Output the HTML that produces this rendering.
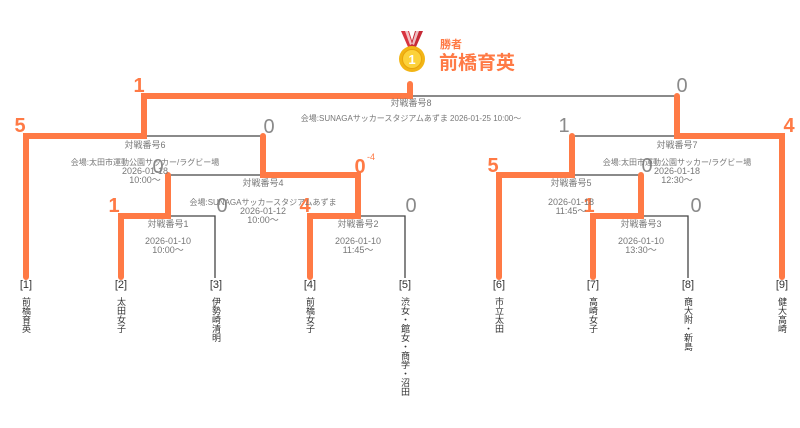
<!DOCTYPE html>
<html><head><meta charset="utf-8"><style>
html,body{margin:0;padding:0;background:#fff;width:800px;height:428px;overflow:hidden}
svg{display:block;font-family:"Liberation Sans","Noto Sans CJK JP",sans-serif}
.t{font-size:9px;fill:#777;text-anchor:middle}
.v{font-size:8px;fill:#777;text-anchor:middle}
.g{font-size:20px;fill:#8a8a8a;text-anchor:middle}
.o{font-size:20px;fill:#ff7a45;text-anchor:middle;font-weight:bold}
.l{font-size:11px;fill:#333;text-anchor:middle}
.n{font-size:9px;fill:#333;writing-mode:tb;glyph-orientation-vertical:0}
</style></head><body>
<svg width="800" height="428" viewBox="0 0 800 428">
<g stroke="#444" stroke-width="1.3" fill="none">
<path d="M121 216H215V278"/>
<path d="M310 216H405V278"/>
<path d="M168 175H358"/>
<path d="M26 136H263"/>
<path d="M144 96H677"/>
<path d="M572 136H782"/>
<path d="M499 175H641"/>
<path d="M593 216H688V278"/>
</g>
<g stroke="#ff7a45" stroke-width="6" fill="none" stroke-linecap="round" stroke-linejoin="miter">
<path d="M26 277V136H144V96H410V84"/>
<path d="M121 277V216H168V175"/>
<path d="M310 277V216H358V175H263V136"/>
<path d="M782 277V136H677V96"/>
<path d="M499 277V175H572V136"/>
<path d="M593 277V216H641V175"/>
</g>
<g>
<path d="M401 31L409 31L414 47L408 47Z" fill="#d8333f"/>
<path d="M423 31L415 31L410 47L416 47Z" fill="#c62a36"/>
<path d="M405 31L408 31L412 44L410 45Z" fill="#fff" opacity=".7"/>
<path d="M419 31L416 31L412 44L414 45Z" fill="#fff" opacity=".7"/>
<circle cx="412" cy="59" r="13" fill="#f2b515"/>
<circle cx="412" cy="59" r="9.5" fill="#fcd23a" stroke="#e8a30c" stroke-width="1"/>
<text x="412" y="64" font-size="13" font-weight="bold" fill="#fff" text-anchor="middle">1</text>
</g>
<text x="440" y="48" font-size="11" fill="#ff7a45" font-weight="bold">勝者</text>
<text x="439" y="69" font-size="19" fill="#ff7a45" font-weight="bold">前橋育英</text>
<text class="o" x="139" y="92">1</text>
<text class="o" x="20" y="132">5</text>
<text class="g" x="269" y="133">0</text>
<text class="g" x="158" y="173">0</text>
<text class="o" x="360" y="173">0</text>
<text x="367" y="160" font-size="9" fill="#ff7a45">-4</text>
<text class="o" x="114" y="212">1</text>
<text class="g" x="222" y="212">0</text>
<text class="o" x="305" y="212">4</text>
<text class="g" x="411" y="212">0</text>
<text class="g" x="682" y="92">0</text>
<text class="o" x="789" y="132">4</text>
<text class="g" x="564" y="132">1</text>
<text class="o" x="493" y="172">5</text>
<text class="g" x="647" y="172">0</text>
<text class="o" x="589" y="212">1</text>
<text class="g" x="696" y="212">0</text>
<text class="t" x="411" y="106">対戦番号8</text>
<text class="v" x="411" y="121">会場:SUNAGAサッカースタジアムあずま 2026-01-25 10:00〜</text>
<text class="t" x="145" y="148">対戦番号6</text>
<text class="v" x="145" y="165">会場:太田市運動公園サッカー/ラグビー場</text>
<text class="t" x="145" y="174">2026-01-18</text>
<text class="t" x="145" y="183">10:00〜</text>
<text class="t" x="263" y="186">対戦番号4</text>
<text class="v" x="263" y="205">会場:SUNAGAサッカースタジアムあずま</text>
<text class="t" x="263" y="214">2026-01-12</text>
<text class="t" x="263" y="223">10:00〜</text>
<text class="t" x="168" y="227">対戦番号1</text>
<text class="t" x="168" y="244">2026-01-10</text>
<text class="t" x="168" y="253">10:00〜</text>
<text class="t" x="358" y="227">対戦番号2</text>
<text class="t" x="358" y="244">2026-01-10</text>
<text class="t" x="358" y="253">11:45〜</text>
<text class="t" x="677" y="148">対戦番号7</text>
<text class="v" x="677" y="165">会場:太田市運動公園サッカー/ラグビー場</text>
<text class="t" x="677" y="174">2026-01-18</text>
<text class="t" x="677" y="183">12:30〜</text>
<text class="t" x="571" y="186">対戦番号5</text>
<text class="t" x="571" y="205">2026-01-18</text>
<text class="t" x="571" y="214">11:45〜</text>
<text class="t" x="641" y="227">対戦番号3</text>
<text class="t" x="641" y="244">2026-01-10</text>
<text class="t" x="641" y="253">13:30〜</text>
<text class="l" x="26" y="288">[1]</text>
<text class="l" x="121" y="288">[2]</text>
<text class="l" x="216" y="288">[3]</text>
<text class="l" x="310" y="288">[4]</text>
<text class="l" x="405" y="288">[5]</text>
<text class="l" x="499" y="288">[6]</text>
<text class="l" x="593" y="288">[7]</text>
<text class="l" x="688" y="288">[8]</text>
<text class="l" x="782" y="288">[9]</text>
<text class="n" x="26" y="297">前橋育英</text>
<text class="n" x="121" y="297">太田女子</text>
<text class="n" x="216" y="297">伊勢崎清明</text>
<text class="n" x="310" y="297">前橋女子</text>
<text class="n" x="405" y="297">渋女・館女・商学・沼田</text>
<text class="n" x="499" y="297">市立太田</text>
<text class="n" x="593" y="297">高崎女子</text>
<text class="n" x="688" y="297">商大附・新島</text>
<text class="n" x="782" y="297">健大高崎</text>
</svg>
</body></html>
